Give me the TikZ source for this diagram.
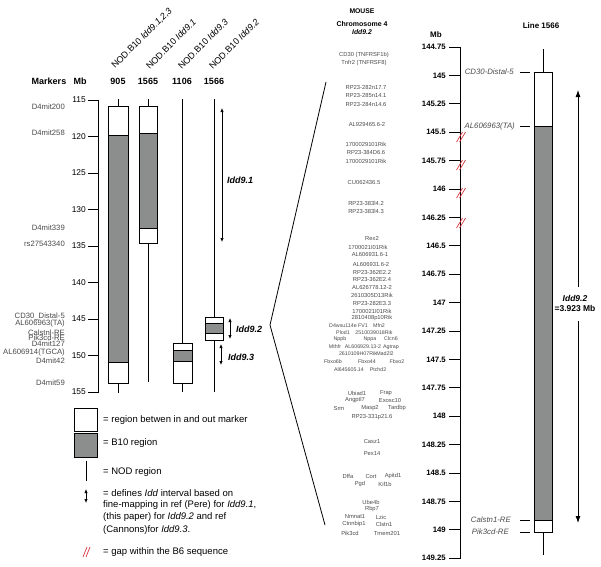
\documentclass[tikz,border=0pt]{standalone}
\usepackage{fontspec}
\setmainfont{Liberation Sans}
\usetikzlibrary{arrows.meta,positioning}
\definecolor{bgrey}{HTML}{8C8E8E}
\definecolor{genegrey}{HTML}{4A4A4A}
\definecolor{gapred}{HTML}{D8343C}
\newcommand{\fs}[1]{\fontsize{#1}{#1}\selectfont}

\begin{document}
\begin{tikzpicture}[x=1pt,y=-1pt,
every node/.style={inner sep=0pt},
gene/.style={text=genegrey,font=\fs{5.8}},
dense/.style={text=genegrey,font=\fs{5.3}},
mkr/.style={anchor=east,text=genegrey,font=\fs{7.7}},
mbl/.style={anchor=east,font=\fs{8.4}},
mbr/.style={anchor=east,font=\bfseries\fs{7.8}},
head/.style={font=\bfseries\fs{9}},
strain/.style={anchor=south west,rotate=45,font=\fs{9}},
col/.style={draw,line width=0.8pt},
b10/.style={col,fill=bgrey},
dbl/.style={{Latex[length=4pt,width=3.4pt]}-{Latex[length=4pt,width=3.4pt]},line width=0.7pt},
gap/.style={draw=gapred,line width=0.7pt},
leg/.style={anchor=west,font=\fs{9.5}},
idd/.style={anchor=west,font=\bfseries\itshape\fs{9}},
rlab/.style={anchor=east,text=genegrey,font=\itshape\fs{7.8}}
]
\useasboundingbox (0,0) rectangle (601,566);

% left panel: Mb axis
\draw[line width=0.8pt] (88,100) -- (98,100) -- (98,392) -- (88,392);
\foreach \v [count=\i from 0] in {115,120,...,155} {
  \draw[line width=0.8pt] (88,100+\i*36.5) -- (98,100+\i*36.5);
  \node[mbl] (lt\i) at (86,100+\i*36.5) {\v};
}
\node[head] (hmk) at (49,81) {Markers};
\node[head] (hmb) at (80,81) {Mb};
\node[head] (n905) at (118,81) {905};
\node[head] (n1565) at (148,81) {1565};
\node[head] (n1106) at (182,81) {1106};
\node[head] (n1566) at (214,81) {1566};
\node[strain] (s905) at (116,70) {NOD.B10 \textit{Idd9.1,2,3}};
\node[strain] (s1565) at (150,70) {NOD.B10 \textit{Idd9.1}};
\node[strain] (s1106) at (182,70) {NOD.B10 \textit{Idd9.3}};
\node[strain] (s1566) at (213,70) {NOD.B10 \textit{Idd9.2}};

% markers
\foreach \y/\t [count=\i] in {107/D4mit200,133/D4mit258,228/D4mit339,244/rs27543340,
  316/CD30\_Distal-5,323/AL606963(TA),333/Calstnl-RE,338/Pik3cd-RE,344/D4mit127,
  352/AL606914(TGCA),361/D4mit42,383/D4mit59}
  \node[mkr] (mk\i) at (65,\y) {\t};

% congenic lines
\draw[col] (118,99) -- (118,106);
\draw[col] (108,106) rectangle (128,135);
\draw[b10] (108,135) rectangle (128,362);
\draw[col] (108,362) rectangle (128,383);
\draw[col] (118,383) -- (118,393);

\draw[col] (148,99) -- (148,106);
\draw[col] (139,106) rectangle (157,133);
\draw[b10] (139,133) rectangle (157,228);
\draw[col] (139,228) rectangle (157,243);
\draw[col] (148,243) -- (148,382);

\draw[col] (182,99) -- (182,343);
\draw[col] (173,343) rectangle (192,350);
\draw[b10] (173,350) rectangle (192,361);
\draw[col] (173,361) rectangle (192,383);
\draw[col] (182,383) -- (182,392);

\draw[col] (214,99) -- (214,317);
\draw[col] (205,317) rectangle (223,323);
\draw[b10] (205,323) rectangle (223,333);
\draw[col] (205,333) rectangle (223,340);
\draw[col] (214,340) -- (214,392);

% Idd intervals
\coordinate (a1t) at (222,108); \coordinate (a1b) at (222,242);
\coordinate (a2t) at (230,318); \coordinate (a2b) at (230,339);
\coordinate (a3t) at (221,344); \coordinate (a3b) at (221,365);
\draw[dbl] (a1t) -- (a1b);
\draw[dbl] (a2t) -- (a2b);
\draw[dbl] (a3t) -- (a3b);
\node[idd] (i91) at (227,180) {Idd9.1};
\node[idd] (i92) at (236,329) {Idd9.2};
\node[idd] (i93) at (228,357) {Idd9.3};

% legend
\draw[col] (74,408) rectangle (97,431);
\draw[b10] (74,433) rectangle (97,457);
\draw[col] (86,461) -- (86,481);
\coordinate (lat) at (86,489); \coordinate (lab) at (86,503);
\draw[dbl] (lat) -- (lab);
\draw[gap] (83,557) -- (87,547);
\draw[gap] (86,557) -- (90,547);
\node[leg] (lg1) at (103,420) {= region betwen in and out marker};
\node[leg] (lg2) at (103,443) {= B10 region};
\node[leg] (lg3) at (103,472) {= NOD region};
\node[leg] (lg4) at (103,493) {= defines \textit{Idd} interval based on};
\node[leg] (lg5) at (103,505) {fine-mapping in ref (Pere) for \textit{Idd9.1},};
\node[leg] (lg6) at (103,517) {(this paper) for \textit{Idd9.2} and ref};
\node[leg] (lg7) at (103,530) {(Cannons)for \textit{Idd9.3}.};
\node[leg] (lg8) at (103,552) {= gap within the B6 sequence};

% zoom into Idd9.2
\coordinate (zt) at (326,82); \coordinate (zm) at (270,325); \coordinate (zb) at (325,525);
\draw[line width=0.8pt] (zt) -- (zm) -- (zb);

% middle: genes
\node[font=\bfseries\fs{6.8}] (tmouse) at (362,11) {MOUSE};
\node[font=\bfseries\fs{7}] (tchr) at (362,24) {Chromosome 4};
\node[font=\bfseries\itshape\fs{6.8}] (tidd) at (362,32) {Idd9.2};
\foreach \x/\y/\t [count=\i] in {
  364/55/CD30 (TNFRSF1b), 364/63/Tnfr2 (TNFRSF8),
  366/87/RP23-282n17.7, 366/95/RP23-285n14.1, 366/104/RP23-284n14.6,
  367/124/AL929465.6-2,
  366/144/1700029101Rik, 366/152/RP23-384D6.6, 366/161/1700029101Rik,
  364/182/CU062436.5,
  366/203/RP23-383l4.2, 366/211/RP23-383l4.3,
  372/238/Rex2, 368/247/1700021I01Rik, 370/254/AL606931.6-1,
  371/264/AL606931.6-2, 372/272/RP23-362E2.2, 372/279/RP23-362E2.4,
  372/287/AL626778.12-2, 372/295/2610305D13Rik, 372/303/RP23-282E3.3,
  372/311/1700021I01Rik, 372/318/2810408p10Rik,
  357/393/Ubiad1, 386/393/Frap,
  355/400/Angptl7, 390/400/Exosc10,
  339/408/Srm, 370/408/Masp2, 397/408/Tardbp,
  372/417/RP23-331p21.6,
  372/441/Casz1, 372/454/Pex14,
  348/476/Dffa, 371/476/Cort, 393/476/Apitd1,
  360/484/Pgd, 385/484/Kif1b,
  371/502/Ube4b, 372/509/Rbp7,
  355/517/Nmnat1, 381/517/Lzic,
  354/524/Ctnnbip1, 384/524/Clstn1,
  350/533/Pik3cd, 387/533/Tmem201}
  \node[gene] (g\i) at (\x,\y) {\t};
\foreach \x/\y/\t [count=\i] in {
  343/326/D4wsu114e, 363/326/FV1, 379/326/Mfn2,
  343/333/Plod1, 374/333/2510039018Rik,
  340/339/Nppb, 370/339/Nppa, 391/339/Clcn6,
  335/347/Mthfr, 363/347/AL606929.13-2, 391/347/Agtrap,
  358/354/2610109H07Rik, 385/354/Mad2l2,
  333/362/Fbxo6b, 367/362/Fbxo44, 397/362/Fbxo2,
  349/370/Al645605.14, 378/370/Ptchd2}
  \node[dense] (d\i) at (\x,\y) {\t};

% right panel: Mb axis
\node[font=\bfseries\fs{8}] (rmb) at (436,35) {Mb};
\draw[line width=0.8pt] (449,47) -- (460,47) -- (460,558) -- (449,558);
\foreach \v [count=\i from 0] in {144.75,145,145.25,145.5,145.75,146,146.25,146.5,
  146.75,147,147.25,147.5,147.75,148,148.25,148.5,148.75,149,149.25} {
  \draw[line width=0.8pt] (449,47+\i*28.4) -- (460,47+\i*28.4);
  \node[mbr] (rt\i) at (446,47+\i*28.4) {\v};
}
\foreach \y in {137,165,193,223} {
  \draw[gap] (456.5,\y+5) -- (462.5,\y-5);
  \draw[gap] (459.5,\y+5) -- (465.5,\y-5);
}

% line 1566
\node[font=\bfseries\fs{8}] (tline) at (541,26) {Line 1566};
\draw[col] (543,49) -- (543,72);
\draw[col] (534,72) rectangle (552,126);
\draw[b10] (534,126) rectangle (552,520);
\draw[col] (534,520) rectangle (552,532);
\draw[col] (543,532) -- (543,555);
\node[rlab] (rm1) at (514,72) {CD30-Distal-5};
\node[rlab] (rm2) at (515,126) {AL606963(TA)};
\node[rlab] (rm3) at (511,520) {Calstn1-RE};
\node[rlab] (rm4) at (509,532) {Pik3cd-RE};
\foreach \y in {72,126,520,532}
  \draw[line width=0.8pt] (520,\y) -- (530,\y);

% Idd9.2 interval
\node[font=\bfseries\itshape\fs{8.5}] (ri92) at (575,298) {Idd9.2};
\node[font=\bfseries\fs{8.5}] (rsize) at (575,308) {=3.923 Mb};
\coordinate (rat) at (578,90); \coordinate (rab) at (578,523);
\draw[line width=0.8pt,-{Latex[length=7pt,width=5pt]}] (578,287) -- (rat);
\draw[line width=0.8pt,-{Latex[length=7pt,width=5pt]}] (578,321) -- (rab);
\end{tikzpicture}
\end{document}
